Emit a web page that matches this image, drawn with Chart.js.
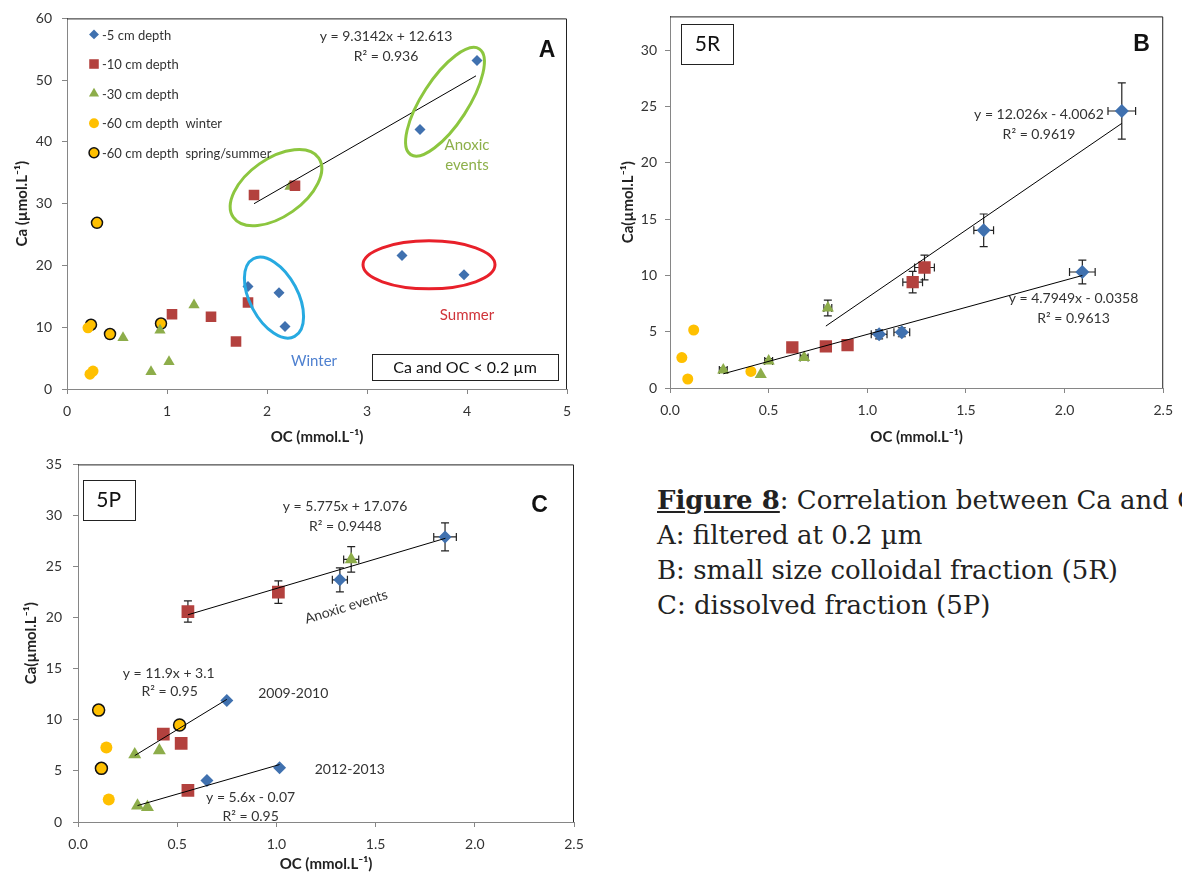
<!DOCTYPE html>
<html>
<head>
<meta charset="utf-8">
<script src="https://cdn.jsdelivr.net/npm/chart.js@4.4.1/dist/chart.umd.min.js"></script>
<style>
  html, body { margin: 0; padding: 0; background: #fff; overflow: hidden; width: 1182px; height: 877px; }
  canvas { position: absolute; }
  #chartA { left: 0; top: 0; }
  #chartB { left: 600px; top: 0; }
  #chartC { left: 0; top: 445px; }
  #caption { position: absolute; left: 657px; top: 483px; font-family: 'DejaVu Serif', serif; font-size: 26px; line-height: 35px; color: #222; white-space: nowrap; }
</style>
</head>
<body>
<canvas id="chartA" width="600" height="450"></canvas>
<canvas id="chartB" width="582" height="450"></canvas>
<canvas id="chartC" width="600" height="432"></canvas>
<div id="caption">
  <div><b><u>Figure 8</u></b>: Correlation between Ca and OC</div>
  <div>A: filtered at 0.2 µm</div>
  <div>B: small size colloidal fraction (5R)</div>
  <div>C: dissolved fraction (5P)</div>
</div>
<script>
// ---- data : panel A (filtered at 0.2 um) ----
var a5cmOC = [4.10, 3.53, 3.35, 3.97, 1.81, 2.12, 2.18];
var a5cmCa = [53.2, 42.0, 21.6, 18.5, 16.6, 15.6, 10.1];
var a10cmOC = [1.87, 2.28, 1.81, 1.05, 1.44, 1.69];
var a10cmCa = [31.4, 32.9, 14.0, 12.1, 11.7, 7.7];
var a30cmOC = [2.23, 1.27, 0.93, 0.56, 1.02, 0.84];
var a30cmCa = [32.8, 13.6, 9.5, 8.3, 4.4, 2.8];
var a60winterOC = [0.21, 0.23, 0.26];
var a60winterCa = [9.9, 2.4, 2.9];
var a60springOC = [0.30, 0.24, 0.43, 0.94];
var a60springCa = [26.9, 10.4, 8.9, 10.6];
var trendAOC = [1.87, 4.09];
var trendACa = [30.0, 50.7];
var legendA = ['-5 cm depth', '-10 cm depth', '-30 cm depth', '-60 cm depth  winter', '-60 cm depth  spring/summer'];

// ---- data : panel B (5R) ----
var b5cmOC = [2.29, 1.59, 2.09, 1.175, 1.06];
var b5cmCa = [24.6, 14.0, 10.3, 4.95, 4.77];
var b5cmOCerr = [0.07, 0.05, 0.065, 0.04, 0.04];
var b5cmCaErr = [2.5, 1.45, 1.05, 0.4, 0.4];
var b10cmOC = [1.29, 1.23, 0.62, 0.79, 0.90];
var b10cmCa = [10.7, 9.4, 3.6, 3.7, 3.8];
var b10cmOCerr = [0.05, 0.05, 0, 0, 0];
var b10cmCaErr = [1.1, 0.95, 0, 0, 0];
var b30cmOC = [0.80, 0.27, 0.46, 0.50, 0.68];
var b30cmCa = [7.1, 1.6, 1.2, 2.4, 2.7];
var b30cmOCerr = [0.02, 0.02, 0, 0.02, 0.02];
var b30cmCaErr = [0.7, 0.2, 0, 0.2, 0.2];
var b60OC = [0.12, 0.06, 0.09, 0.41];
var b60Ca = [5.15, 2.7, 0.8, 1.47];
var trendB1OC = [0.79, 2.29];
var trendB1Ca = [5.5, 23.5];
var trendB2OC = [0.27, 2.09];
var trendB2Ca = [1.26, 9.99];

// ---- data : panel C (5P) ----
var c5cmOC = [1.85, 1.32, 0.75, 0.65, 1.016];
var c5cmCa = [27.9, 23.7, 11.9, 4.05, 5.3];
var c5cmOCerr = [0.057, 0.038, 0, 0, 0];
var c5cmCaErr = [1.37, 1.17, 0, 0, 0];
var c10cmOC = [0.554, 1.01, 0.43, 0.52, 0.554];
var c10cmCa = [20.6, 22.5, 8.6, 7.7, 3.1];
var c10cmOCerr = [0.01, 0.02, 0, 0, 0];
var c10cmCaErr = [1.04, 1.1, 0, 0, 0];
var c30cmOC = [1.377, 0.286, 0.41, 0.30, 0.35];
var c30cmCa = [25.7, 6.6, 7.0, 1.6, 1.45];
var c30cmOCerr = [0.038, 0, 0, 0, 0];
var c30cmCaErr = [1.25, 0, 0, 0, 0];
var c60winterOC = [0.143, 0.155];
var c60winterCa = [7.3, 2.2];
var c60springOC = [0.104, 0.118, 0.512];
var c60springCa = [10.95, 5.25, 9.5];
var trendC1OC = [0.554, 1.852];
var trendC1Ca = [20.28, 27.77];
var trendC2OC = [0.286, 0.75];
var trendC2Ca = [6.5, 12.0];
var trendC3OC = [0.30, 1.016];
var trendC3Ca = [1.61, 5.62];

var BLUE = '#4071AF', RED = '#B3413E', GREEN = '#8DAD4A', YELLOW = '#FFC000';
var FONT = 'Lato, "Open Sans", sans-serif';

function pts(xs, ys) {
  return xs.map(function (x, i) { return { x: x, y: ys[i] }; });
}

function series(xs, ys, style, color, r, extra) {
  var ds = {
    data: pts(xs, ys),
    pointStyle: style,
    pointRadius: r,
    backgroundColor: color,
    borderColor: color,
    borderWidth: 0
  };
  return Object.assign(ds, extra || {});
}

function trend(xs, ys) {
  return { data: pts(xs, ys), showLine: true, borderColor: '#000', borderWidth: 1, pointRadius: 0, fill: false };
}

function axisX(max, step, digits, height) {
  return {
    type: 'linear', min: 0, max: max,
    ticks: { stepSize: step, color: '#333', font: { family: FONT, size: 14 }, padding: 9,
      callback: function (v) { return v.toFixed(digits); } },
    grid: { drawOnChartArea: false, drawTicks: true, tickLength: 5, color: '#868686' },
    border: { color: '#868686', width: 1 },
    title: { display: true, text: 'OC (mmol.L⁻¹)', color: '#222', font: { family: FONT, size: 15, weight: 'bold' }, padding: { top: 0, bottom: 4 } },
    afterFit: function (s) { s.height = height; }
  };
}

function axisY(max, step, width, tickPad, titlePad, text) {
  return {
    type: 'linear', min: 0, max: max,
    ticks: { stepSize: step, includeBounds: false, color: '#333', font: { family: FONT, size: 14 }, padding: tickPad },
    grid: { drawOnChartArea: false, drawTicks: true, tickLength: 5, color: '#868686' },
    border: { color: '#868686', width: 1 },
    title: { display: true, text: text, color: '#222', font: { family: FONT, size: 15, weight: 'bold' }, padding: { top: titlePad, bottom: 0 } },
    afterFit: function (s) { s.width = width; }
  };
}

// annotations for each panel, placed in data units
var extras = {
  chartA: {
    ellipses: [
      { x: 2.09, y: 32.6, a: 52, b: 29, rot: -35, color: '#8CC63F' },
      { x: 3.78, y: 46.5, a: 63, b: 23, rot: -57, color: '#8CC63F' },
      { x: 2.07, y: 14.8, a: 44, b: 24, rot: 62, color: '#27AAE1' },
      { x: 3.62, y: 20.1, a: 66, b: 24, rot: 0, color: '#E8202A' }
    ],
    boxes: [{ x0: 3.05, y0: 5.6, x1: 4.91, y1: 1.33 }],
    texts: [
      { x: 3.19, y: 57.1, t: 'y = 9.3142x + 12.613', size: 14, color: '#333' },
      { x: 3.19, y: 53.9, t: 'R² = 0.936', size: 14, color: '#333' },
      { x: 4.80, y: 54.7, t: 'A', size: 23, color: '#111', bold: true, family: '"Liberation Sans", Arial' },
      { x: 4.00, y: 39.4, t: 'Anoxic', size: 15, color: '#8DB04A' },
      { x: 4.00, y: 36.3, t: 'events', size: 15, color: '#8DB04A' },
      { x: 4.00, y: 12.0, t: 'Summer', size: 15, color: '#D0343A' },
      { x: 2.47, y: 4.5, t: 'Winter', size: 15, color: '#4F81D0' },
      { x: 3.98, y: 3.45, t: 'Ca and OC < 0.2 µm', size: 16, color: '#111' }
    ],
    legend: true
  },
  chartB: {
    boxes: [{ x0: 0.055, y0: 32.36, x1: 0.32, y1: 28.77 }],
    texts: [
      { x: 1.87, y: 24.27, t: 'y = 12.026x - 4.0062', size: 14, color: '#333' },
      { x: 1.87, y: 22.5, t: 'R² = 0.9619', size: 14, color: '#333' },
      { x: 2.045, y: 7.94, t: 'y = 4.7949x - 0.0358', size: 14, color: '#333' },
      { x: 2.045, y: 6.18, t: 'R² = 0.9613', size: 14, color: '#333' },
      { x: 2.39, y: 30.5, t: 'B', size: 23, color: '#111', bold: true, family: '"Liberation Sans", Arial' },
      { x: 0.19, y: 30.56, t: '5R', size: 21, color: '#111' }
    ]
  },
  chartC: {
    boxes: [{ x0: 0.024, y0: 33.43, x1: 0.284, y1: 29.54 }],
    texts: [
      { x: 1.346, y: 30.87, t: 'y = 5.775x + 17.076', size: 14, color: '#333' },
      { x: 1.347, y: 28.93, t: 'R² = 0.9448', size: 14, color: '#333' },
      { x: 0.457, y: 14.58, t: 'y = 11.9x + 3.1', size: 14, color: '#333' },
      { x: 0.462, y: 12.73, t: 'R² = 0.95', size: 14, color: '#333' },
      { x: 0.87, y: 2.43, t: 'y = 5.6x - 0.07', size: 14, color: '#333' },
      { x: 0.87, y: 0.55, t: 'R² = 0.95', size: 14, color: '#333' },
      { x: 1.085, y: 12.54, t: '2009-2010', size: 14, color: '#333' },
      { x: 1.37, y: 5.12, t: '2012-2013', size: 14, color: '#333' },
      { x: 1.352, y: 21.06, t: 'Anoxic events', size: 14, color: '#333', rot: -17 },
      { x: 2.326, y: 30.94, t: 'C', size: 23, color: '#111', bold: true, family: '"Liberation Sans", Arial' },
      { x: 0.155, y: 31.49, t: '5P', size: 21, color: '#111' }
    ]
  }
};

// error bars, plot frame, ellipses, labels
var decor = {
  id: 'decor',
  beforeDatasetsDraw: function (chart) {
    var ctx = chart.ctx, xs = chart.scales.x, ys = chart.scales.y;
    ctx.save();
    ctx.strokeStyle = '#222';
    ctx.lineWidth = 1.2;
    chart.data.datasets.forEach(function (ds) {
      if (!ds.errX && !ds.errY) return;
      ds.data.forEach(function (p, i) {
        var px = xs.getPixelForValue(p.x), py = ys.getPixelForValue(p.y);
        var ey = ds.errY ? ds.errY[i] : 0, ex = ds.errX ? ds.errX[i] : 0;
        ctx.beginPath();
        if (ey) {
          var t = ys.getPixelForValue(p.y + ey), b = ys.getPixelForValue(p.y - ey);
          ctx.moveTo(px, t); ctx.lineTo(px, b);
          ctx.moveTo(px - 4, t); ctx.lineTo(px + 4, t);
          ctx.moveTo(px - 4, b); ctx.lineTo(px + 4, b);
        }
        if (ex) {
          var l = xs.getPixelForValue(p.x - ex), r = xs.getPixelForValue(p.x + ex);
          ctx.moveTo(l, py); ctx.lineTo(r, py);
          ctx.moveTo(l, py - 4); ctx.lineTo(l, py + 4);
          ctx.moveTo(r, py - 4); ctx.lineTo(r, py + 4);
        }
        ctx.stroke();
      });
    });
    ctx.restore();
  },
  afterDraw: function (chart) {
    var ctx = chart.ctx, area = chart.chartArea, xs = chart.scales.x, ys = chart.scales.y;
    var cfg = extras[chart.canvas.id];
    ctx.save();
    // top and right frame
    ctx.strokeStyle = '#222';
    ctx.lineWidth = 1;
    ctx.beginPath();
    ctx.moveTo(area.left, area.top + 0.5);
    ctx.lineTo(area.right - 0.5, area.top + 0.5);
    ctx.lineTo(area.right - 0.5, area.bottom);
    ctx.stroke();

    (cfg.ellipses || []).forEach(function (e) {
      ctx.beginPath();
      ctx.ellipse(xs.getPixelForValue(e.x), ys.getPixelForValue(e.y), e.a, e.b, e.rot * Math.PI / 180, 0, Math.PI * 2);
      ctx.strokeStyle = e.color;
      ctx.lineWidth = 3;
      ctx.stroke();
    });

    (cfg.boxes || []).forEach(function (bx) {
      var x0 = xs.getPixelForValue(bx.x0), x1 = xs.getPixelForValue(bx.x1);
      var y0 = ys.getPixelForValue(bx.y0), y1 = ys.getPixelForValue(bx.y1);
      ctx.fillStyle = '#fff';
      ctx.fillRect(x0, y0, x1 - x0, y1 - y0);
      ctx.strokeStyle = '#222';
      ctx.lineWidth = 1;
      ctx.strokeRect(Math.round(x0) + 0.5, Math.round(y0) + 0.5, Math.round(x1 - x0), Math.round(y1 - y0));
    });

    ctx.textAlign = 'center';
    ctx.textBaseline = 'middle';
    (cfg.texts || []).forEach(function (t) {
      ctx.save();
      ctx.translate(xs.getPixelForValue(t.x), ys.getPixelForValue(t.y));
      if (t.rot) ctx.rotate(t.rot * Math.PI / 180);
      ctx.font = (t.bold ? 'bold ' : '') + t.size + 'px ' + (t.family || FONT);
      ctx.fillStyle = t.color;
      ctx.fillText(t.t, 0, 0);
      ctx.restore();
    });

    if (cfg.legend) {
      ctx.textAlign = 'left';
      ctx.font = '13px ' + FONT;
      legendA.forEach(function (label, i) {
        var ds = chart.data.datasets[i + 1];
        var ly = area.top + 16 + i * 29.6;
        ctx.fillStyle = ds.backgroundColor;
        ctx.strokeStyle = ds.borderColor;
        ctx.lineWidth = ds.borderWidth || 0;
        Chart.helpers.drawPoint(ctx, {
          pointStyle: ds.pointStyle, radius: ds.pointRadius * 0.9, borderWidth: ds.borderWidth || 0, rotation: 0
        }, area.left + 27, ly);
        ctx.fillStyle = '#333';
        ctx.fillText(label, area.left + 35, ly + 1);
      });
    }
    ctx.restore();
  }
};

// Panel A : Ca vs OC, filtered at 0.2 um
var ctx = document.getElementById('chartA').getContext('2d');
var chartA = new Chart(ctx, {
  type: 'scatter',
  data: {
    datasets: [
      trend(trendAOC, trendACa),
      series(a5cmOC, a5cmCa, 'rectRot', BLUE, 5.5),
      series(a10cmOC, a10cmCa, 'rect', RED, 7.5),
      series(a30cmOC, a30cmCa, 'triangle', GREEN, 6.5),
      series(a60winterOC, a60winterCa, 'circle', YELLOW, 5.5),
      series(a60springOC, a60springCa, 'circle', YELLOW, 5.5, { borderColor: '#111', borderWidth: 1.5 })
    ]
  },
  options: {
    responsive: false,
    animation: false,
    layout: { padding: { left: 0, top: 14, right: 33, bottom: 0 } },
    scales: {
      x: axisX(5, 1, 0, 61),
      y: axisY(60, 10, 67, 10, 13, 'Ca (µmol.L⁻¹)')
    },
    plugins: { legend: { display: false }, tooltip: { enabled: false } }
  },
  plugins: [decor]
});

// Panel B : small size colloidal fraction (5R)
var ctx = document.getElementById('chartB').getContext('2d');
var chartB = new Chart(ctx, {
  type: 'scatter',
  data: {
    datasets: [
      trend(trendB1OC, trendB1Ca),
      trend(trendB2OC, trendB2Ca),
      series(b5cmOC, b5cmCa, 'rectRot', BLUE, 7, { errX: b5cmOCerr, errY: b5cmCaErr }),
      series(b10cmOC, b10cmCa, 'rect', RED, 8.7, { errX: b10cmOCerr, errY: b10cmCaErr }),
      series(b30cmOC, b30cmCa, 'triangle', GREEN, 7, { errX: b30cmOCerr, errY: b30cmCaErr }),
      series(b60OC, b60Ca, 'circle', YELLOW, 5.5)
    ]
  },
  options: {
    responsive: false,
    animation: false,
    layout: { padding: { left: 0, top: 13, right: 12, bottom: 0 } },
    scales: {
      x: axisX(2.5, 0.5, 1, 62),
      y: axisY(33, 5, 70, 8, 19, 'Ca(µmol.L⁻¹)')
    },
    plugins: { legend: { display: false }, tooltip: { enabled: false } }
  },
  plugins: [decor]
});

// Panel C : dissolved fraction (5P)
var ctx = document.getElementById('chartC').getContext('2d');
var chartC = new Chart(ctx, {
  type: 'scatter',
  data: {
    datasets: [
      trend(trendC1OC, trendC1Ca),
      trend(trendC2OC, trendC2Ca),
      trend(trendC3OC, trendC3Ca),
      series(c5cmOC, c5cmCa, 'rectRot', BLUE, 6.5, { errX: c5cmOCerr, errY: c5cmCaErr }),
      series(c10cmOC, c10cmCa, 'rect', RED, 9, { errX: c10cmOCerr, errY: c10cmCaErr }),
      series(c30cmOC, c30cmCa, 'triangle', GREEN, 7.5, { errX: c30cmOCerr, errY: c30cmCaErr }),
      series(c60winterOC, c60winterCa, 'circle', YELLOW, 6),
      series(c60springOC, c60springCa, 'circle', YELLOW, 6, { borderColor: '#111', borderWidth: 1.5 })
    ]
  },
  options: {
    responsive: false,
    animation: false,
    layout: { padding: { left: 0, top: 17, right: 26, bottom: 0 } },
    scales: {
      x: axisX(2.5, 0.5, 1, 55),
      y: axisY(35, 5, 78, 11, 22.5, 'Ca(µmol.L⁻¹)')
    },
    plugins: { legend: { display: false }, tooltip: { enabled: false } }
  },
  plugins: [decor]
});
</script>
</body>
</html>
